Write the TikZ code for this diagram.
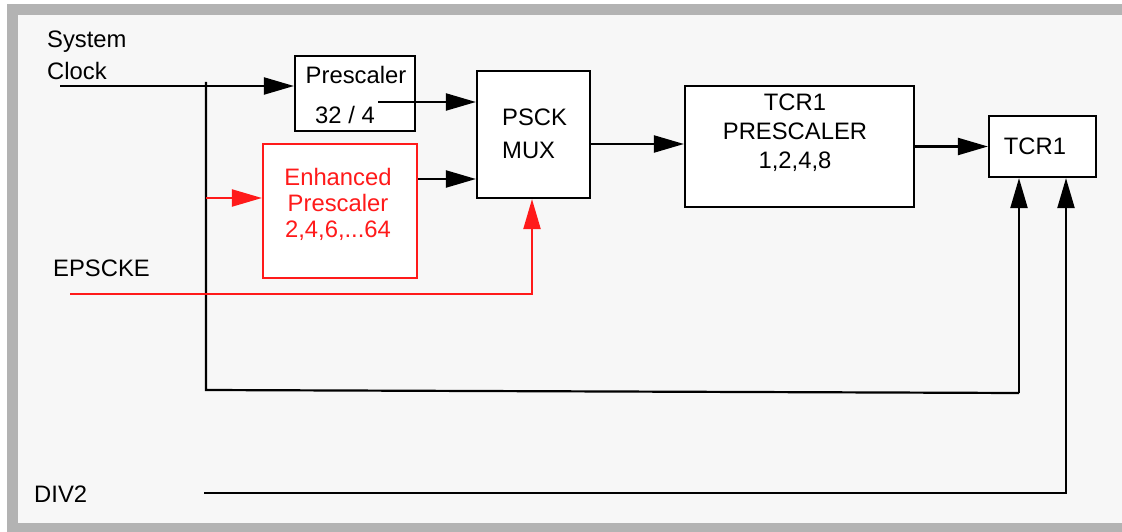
\documentclass[tikz,border=0pt]{standalone}
\usepackage{fontspec}
\setmainfont{Liberation Sans}
\usetikzlibrary{arrows.meta,positioning}
\definecolor{framegray}{HTML}{B3B3B3}
\definecolor{panel}{HTML}{F7F7F7}
\definecolor{enhred}{HTML}{FF1A1A}

\begin{document}
\begin{tikzpicture}[x=1pt,y=-1pt,
    font=\fontsize{23.8}{26}\selectfont,
    block/.style={draw,fill=white,line width=2.2pt,inner sep=0pt},
    txt/.style={inner sep=0pt},
    wire/.style={line width=2.2pt},
    sig/.style={wire,-{Triangle[length=30pt,width=17pt]}}]
  % frame
  \useasboundingbox (0,0) rectangle (1122,532);
  \fill[white]     (0,0)   rectangle (1122,532);
  \fill[framegray] (7,4)   rectangle (1122,532);
  \fill[panel]     (18,15) rectangle (1122,523);

  % blocks
  \node[block,minimum width=120pt,minimum height=75pt]  (presc) at (355,93.5)   {};
  \node[block,minimum width=113pt,minimum height=127pt] (mux)   at (533.5,134.5) {};
  \node[block,draw=enhred,minimum width=154pt,minimum height=134pt] (enh) at (340,211) {};
  \node[block,minimum width=229pt,minimum height=121pt] (tcrp)  at (799.5,146.5) {};
  \node[block,minimum width=107pt,minimum height=61pt]  (tcr)   at (1042.5,146.5) {};

  % texts
  \node[txt,anchor=base] (presctxt) at (356,84)  {Prescaler};
  \node[txt,anchor=base] (ratio)    at (345,124) {32 / 4};
  \node[txt,align=left,anchor=west,font=\fontsize{23.8}{33}\selectfont] (muxtxt) at (502,133.5) {PSCK\\MUX};
  \node[txt,align=center,text=enhred,font=\fontsize{23.8}{26}\selectfont] (enhtxt) at (338,204.5) {Enhanced\\Prescaler\\2,4,6,...64};
  \node[txt,align=center,font=\fontsize{23.8}{29}\selectfont] (tcrptxt) at (795,132.5) {TCR1\\PRESCALER\\1,2,4,8};
  \node[txt,anchor=base] (tcrtxt) at (1035,154) {TCR1};
  \node[txt,align=left,anchor=west,font=\fontsize{23.8}{32}\selectfont] (sysclk) at (47,55) {System\\Clock};
  \node[txt,anchor=base west] (epscke) at (53,276) {EPSCKE};
  \node[txt,anchor=base west] (div2)   at (34,502) {DIV2};

  % wires
  \coordinate (clkin) at (60,86);
  \coordinate (tap)   at (206,82);
  \coordinate (tapb)  at (206,390);
  \coordinate (loopb) at (1019,393);
  \coordinate (tape)  at (206,198);
  \coordinate (pout)  at (378,102);
  \coordinate (epsin) at (70,294);
  \coordinate (divin) at (204,493);

  \draw[sig] (clkin) -- (clkin -| presc.west);
  \draw[wire] (tap) -- (tapb) -- (loopb);
  \draw[sig] (loopb) -- (loopb |- tcr.south);
  \draw[sig] (pout) -- (pout -| mux.west);
  \draw[sig,enhred] (tape) -- (tape -| enh.west);
  \draw[sig] (enh.east |- 0,179) -- (mux.west |- 0,179);
  \draw[sig,enhred] (epsin) -- (532,294) -- (532,0 |- mux.south);
  \draw[sig] (mux.east |- 0,144) -- (tcrp.west |- 0,144);
  \draw[sig] (tcrp.east) -- (tcr.west);
  \draw[sig] (divin) -- (1066,493) -- (1066,0 |- tcr.south);
\end{tikzpicture}
\end{document}
